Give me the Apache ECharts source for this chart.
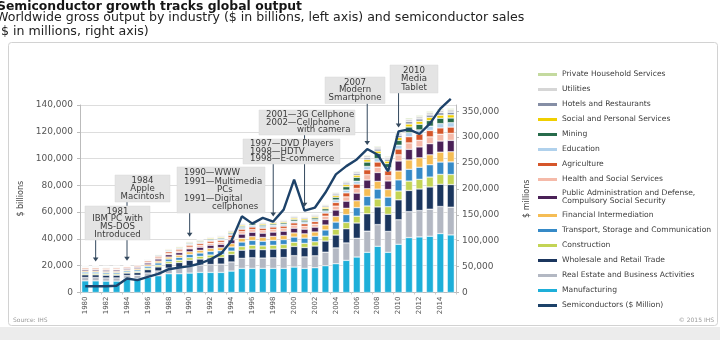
<!DOCTYPE html>
<html><head><meta charset="utf-8">
<script src="https://cdn.jsdelivr.net/npm/echarts@6/dist/echarts.min.js"></script>
<style>html,body{margin:0;padding:0;background:#fff}#c{width:720px;height:340px}</style>
</head><body><div id="c"></div>
<script>
const years = ['1980','1981','1982','1983','1984','1985','1986','1987','1988','1989','1990','1991','1992','1993','1994','1995','1996','1997','1998','1999','2000','2001','2002','2003','2004','2005','2006','2007','2008','2009','2010','2011','2012','2013','2014','2015'];
const leftTicks = [0, 20000, 40000, 60000, 80000, 100000, 120000, 140000];
const rightTicks = [0, 50000, 100000, 150000, 200000, 250000, 300000, 350000];

const manufacturing = [8700,8700,8500,8500,10500,10500,11500,12500,14000,14000,14500,15000,15000,15000,16000,18000,18000,18000,18000,18000,19000,18000,18500,20000,21500,24000,26500,30000,34500,30000,36000,41000,41500,42000,44000,43000];
const realEstate = [2500,2500,2400,2400,2200,2400,3100,3600,4200,4600,5300,5500,5900,6200,6800,7500,7900,7700,7900,8100,8500,8600,8900,10100,11800,13000,14000,15800,16200,15600,18300,19400,19700,20200,20200,20700];
const wholesale = [2000,2000,2000,2000,1800,2000,2500,3000,3400,3800,4300,4500,4900,5000,5600,6100,6500,6300,6500,6700,6900,7000,7300,8300,9600,10600,11400,13000,13200,12800,14900,15800,16100,16600,16600,16900];
const construction = [900,900,900,900,800,900,1100,1300,1500,1700,1900,2000,2200,2200,2500,2700,2900,2800,2900,3000,3100,3100,3200,3700,4300,4700,5100,5800,5900,5700,6600,7000,7200,7400,7400,7500];
const transport = [1100,1100,1100,1100,1000,1100,1400,1700,1900,2100,2400,2500,2700,2800,3100,3400,3600,3500,3600,3700,3900,3900,4100,4600,5400,5900,6400,7200,7400,7100,8300,8800,9000,9200,9200,9400];
const financial = [900,900,800,900,800,900,1100,1400,1500,1700,2000,2000,2200,2300,2500,2800,2900,2800,3000,3000,3100,3200,3200,3700,4200,4700,5100,5700,5800,5700,6600,7000,7100,7400,7400,7600];
const publicAdmin = [1000,1000,1000,1000,900,1000,1300,1500,1700,1900,2200,2300,2400,2500,2800,3100,3200,3200,3200,3300,3500,3500,3600,4100,4800,5300,5700,6500,6600,6400,7500,7900,8100,8300,8300,8500];
const health = [600,600,600,600,550,600,800,900,1000,1200,1300,1400,1500,1500,1700,1900,2000,1900,2000,2000,2100,2100,2200,2500,2900,3200,3500,4000,4000,3900,4600,4800,4900,5100,5100,5200];
const agriculture = [800,800,800,800,700,800,900,1100,1200,1300,1400,1400,1500,1500,1700,1800,1900,1800,1800,1800,1900,1900,2000,2300,2700,3000,3200,3600,3800,3600,4300,4600,4700,4800,4700,4700];
const education = [400,400,400,400,350,400,500,600,700,700,800,900,900,1000,1100,1200,1300,1200,1300,1300,1300,1400,1400,1600,1900,2100,2200,2500,2600,2500,2900,3100,3100,3200,3200,3300];
const mining = [500,500,400,400,350,350,400,500,600,600,700,700,800,800,900,1000,1100,1100,1000,1100,1300,1300,1300,1600,2000,2500,2900,3300,3800,3000,3600,4200,4200,4200,4000,3500];
const socialPersonal = [300,300,300,300,250,300,350,400,500,500,600,600,700,700,800,850,900,900,900,900,1000,1000,1000,1200,1300,1500,1600,1800,1800,1800,2100,2200,2200,2300,2300,2400];
const hotels = [200,200,200,200,200,200,300,300,400,400,500,500,500,600,600,700,700,700,700,700,800,800,800,900,1100,1200,1300,1400,1500,1400,1700,1800,1800,1800,1800,1900];
const utilities = [250,250,250,250,200,200,300,350,400,400,500,500,500,600,600,700,700,700,700,700,800,800,800,900,1100,1200,1300,1500,1600,1500,1700,1800,1800,1900,1900,1900];
const privateHousehold = [100,100,100,100,100,100,150,150,200,200,250,250,300,300,300,350,350,350,350,400,400,400,400,500,500,600,600,700,700,700,800,900,900,900,900,900];
const semiconductors = [12000,12000,12000,13000,27000,24000,30000,36000,45000,48000,51000,56000,64000,75000,100000,147000,133000,144000,137000,160000,218000,158000,164000,193000,228000,244000,257000,277000,266000,234000,311000,315000,306000,326000,355000,374000];

// stacking order bottom -> top
const industries = [
  {name:'Manufacturing', data:manufacturing, color:'#1eafd9'},
  {name:'Real Estate and Business Activities', data:realEstate, color:'#b3b8c3'},
  {name:'Wholesale and Retail Trade', data:wholesale, color:'#1b365e'},
  {name:'Construction', data:construction, color:'#c3d455'},
  {name:'Transport, Storage and Communication', data:transport, color:'#368ac7'},
  {name:'Financial Intermediation', data:financial, color:'#f5bd55'},
  {name:'Public Administration and Defense, Compulsory Social Security', data:publicAdmin, color:'#4a2157'},
  {name:'Health and Social Services', data:health, color:'#f5baa9'},
  {name:'Agriculture', data:agriculture, color:'#d5562a'},
  {name:'Education', data:education, color:'#b0d1ec'},
  {name:'Mining', data:mining, color:'#276b4b'},
  {name:'Social and Personal Services', data:socialPersonal, color:'#f0cf00'},
  {name:'Hotels and Restaurants', data:hotels, color:'#858ea5'},
  {name:'Utilities', data:utilities, color:'#d6d6d6'},
  {name:'Private Household Services', data:privateHousehold, color:'#c4da9f'}
];
const semiName = 'Semiconductors ($ Million)';

// annotations: year the arrow points at, box (layout px), text lines
const annotations = [
  {year:'1981', box:[85,206,65,34], align:'center', lines:[['1981',0],['IBM PC with',0],['MS-DOS',0],['Introduced',0]]},
  {year:'1984', box:[115,175,55,27], align:'center', lines:[['1984',0],['Apple',0],['Macintosh',0]]},
  {year:'1990', box:[177,167,88,46], align:'left', lines:[['1990\u2014WWW',0],['1991\u2014Multimedia',0],['PCs',33],['1991\u2014Digital',0],['cellphones',28]]},
  {year:'1998', box:[243,139,97,25], align:'left', lines:[['1997\u2014DVD Players',0],['1998\u2014HDTV',0],['1998\u2014E-commerce',0]]},
  {year:'2001', box:[259,110,96,25], align:'left', lines:[['2001\u20143G Cellphone',0],['2002\u2014Cellphone',0],['with camera',31]]},
  {year:'2007', box:[325,77,60,26.5], align:'center', lines:[['2007',0],['Modern',0],['Smartphone',0]]},
  {year:'2010', box:[390,65,48,28], align:'center', lines:[['2010',0],['Media',0],['Tablet',0]]}
];

const FONT = 'DejaVu Sans';
const fmt = v => v.toLocaleString('en-US');

const series = industries.map(s => ({
  name: s.name, type: 'bar', stack: 'total', data: s.data,
  barWidth: 7, yAxisIndex: 0,
  itemStyle: {color: s.color, borderColor: '#ffffff', borderWidth: 0.45}
}));
series.push({
  name: semiName, type: 'line', yAxisIndex: 1, data: semiconductors,
  symbol: 'none', clip: false, z: 5,
  lineStyle: {color: '#1d4269', width: 2.4}, itemStyle: {color: '#1d4269'}
});

const legendOrder = industries.map(s => s.name).reverse().concat([semiName]);

const chart = echarts.init(document.getElementById('c'), null, {renderer: 'canvas'});
chart.setOption({
  animation: false,
  backgroundColor: '#ffffff',
  textStyle: {fontFamily: FONT},
  title: [
    {text: 'Semiconductor growth tracks global output', left: -3, top: 0.5, padding: 0,
     textStyle: {fontFamily: FONT, fontSize: 12.4, fontWeight: 'bold', color: '#151515', lineHeight: 12}},
    {text: 'Worldwide gross output by industry ($ in billions, left axis) and semiconductor sales\n($ in millions, right axis)',
     left: -4, top: 10.5, padding: 0,
     textStyle: {fontFamily: FONT, fontSize: 12.6, fontWeight: 'normal', color: '#222', lineHeight: 14}}
  ],
  legend: {
    orient: 'vertical', left: 538, top: 69.5, padding: 0,
    itemWidth: 19, itemHeight: 3, itemGap: 5, icon: 'rect',
    itemStyle: {borderWidth: 0},
    lineStyle: {width: 0},
    data: legendOrder,
    formatter: n => n === 'Public Administration and Defense, Compulsory Social Security'
      ? 'Public Administration and Defense,\nCompulsory Social Security' : n,
    textStyle: {fontFamily: FONT, fontSize: 7.6, color: '#3c3c3c', lineHeight: 8, height: 10}
  },
  grid: {left: 80, right: 264, top: 105, bottom: 47.5},
  xAxis: {
    type: 'category', data: years,
    axisLine: {lineStyle: {color: '#bbbbbb'}},
    axisTick: {show: true, length: 2, lineStyle: {color: '#cccccc'}},
    axisLabel: {rotate: 90, interval: 1, fontSize: 7, color: '#555', margin: 4, fontFamily: FONT}
  },
  yAxis: [
    {type: 'value', min: leftTicks[0], max: leftTicks[leftTicks.length - 1], interval: leftTicks[1] - leftTicks[0],
     name: '$ billions', nameLocation: 'middle', nameGap: 54, nameRotate: 90,
     nameTextStyle: {fontSize: 8, color: '#444', fontFamily: FONT},
     axisLine: {show: true, lineStyle: {color: '#bbbbbb'}},
     axisTick: {show: true, length: 3, lineStyle: {color: '#bbbbbb'}},
     splitLine: {lineStyle: {color: '#dddddd'}},
     axisLabel: {formatter: fmt, fontSize: 9, color: '#555', margin: 7, fontFamily: FONT}},
    {type: 'value', min: rightTicks[0], max: 362000, interval: rightTicks[1] - rightTicks[0],
     name: '$ millions', nameLocation: 'middle', nameGap: 67, nameRotate: 90,
     nameTextStyle: {fontSize: 8, color: '#444', fontFamily: FONT},
     axisLine: {show: true, lineStyle: {color: '#bbbbbb'}},
     axisTick: {show: true, length: 3, lineStyle: {color: '#bbbbbb'}},
     splitLine: {show: false},
     axisLabel: {formatter: fmt, fontSize: 9, color: '#555', margin: 6, fontFamily: FONT, showMaxLabel: false}}
  ],
  series: series
});

// build decorations and annotations, positioned through the chart's own scales
const graphics = [];
graphics.push({type: 'rect', z: -1, shape: {x: 8.5, y: 42.5, width: 709, height: 283, r: 3},
  style: {fill: 'none', stroke: '#d2d2d2', lineWidth: 1}});
graphics.push({type: 'rect', z: -1, shape: {x: 0, y: 327, width: 720, height: 13}, style: {fill: '#ececec'}});
graphics.push({type: 'text', x: 13, y: 320, style: {text: 'Source: IHS', fontSize: 6, fill: '#999', fontFamily: FONT, verticalAlign: 'middle'}});
graphics.push({type: 'text', x: 714, y: 320, style: {text: '\u00a9 2015 IHS', fontSize: 6, fill: '#999', fontFamily: FONT, align: 'right', verticalAlign: 'middle'}});

annotations.forEach(a => {
  const idx = years.indexOf(a.year);
  const total = industries.reduce((s, ind) => s + ind.data[idx], 0);
  const pBar = chart.convertToPixel({xAxisIndex: 0, yAxisIndex: 0}, [idx, total]);
  const pLine = chart.convertToPixel({xAxisIndex: 0, yAxisIndex: 1}, [idx, semiconductors[idx]]);
  const x = pBar[0];
  const tip = Math.min(pBar[1], pLine[1]) - 4;
  const y0 = a.box[1] + a.box[3];
  graphics.push({type: 'line', z: 10, shape: {x1: x, y1: y0, x2: x, y2: tip - 3},
    style: {stroke: '#34495e', lineWidth: 1}});
  graphics.push({type: 'polygon', z: 10, shape: {points: [[x - 2.8, tip - 4], [x + 2.8, tip - 4], [x, tip]]},
    style: {fill: '#34495e'}});
});
annotations.forEach(a => {
  const [bx, by, bw, bh] = a.box;
  graphics.push({type: 'rect', z: 11, shape: {x: bx, y: by, width: bw, height: bh},
    style: {fill: '#e4e4e4', stroke: '#dadada', lineWidth: 0.5}});
  const n = a.lines.length;
  const lh = (bh - 3) / n;
  a.lines.forEach((ln, i) => {
    const tx = a.align === 'center' ? bx + bw / 2 : bx + 7 + ln[1];
    graphics.push({type: 'text', z: 12, x: tx, y: by + 1.5 + lh * (i + 0.5),
      style: {text: ln[0], fontSize: 8.6, fontFamily: FONT, fill: '#3a3a3a',
        align: a.align === 'center' ? 'center' : 'left', verticalAlign: 'middle'}});
  });
});
chart.setOption({graphic: graphics});
</script>
</body></html>
